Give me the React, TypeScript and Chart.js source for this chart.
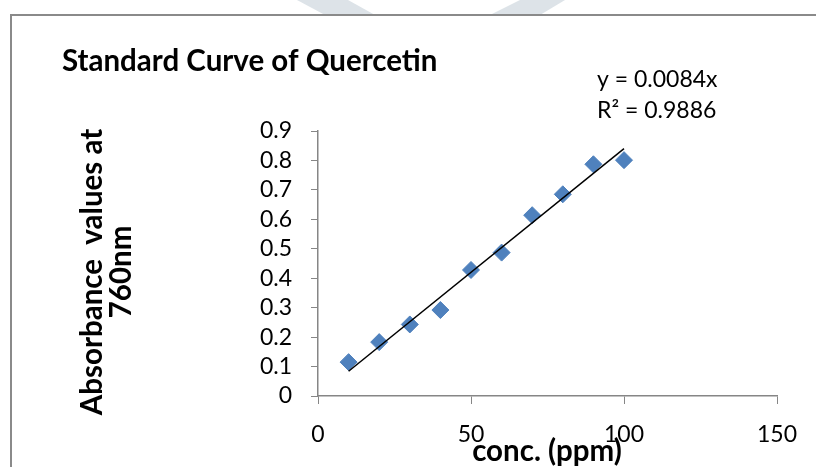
import React, { useEffect, useRef } from "react";
import { Chart, registerables } from "chart.js";

Chart.register(...registerables);

const concentrations = [10, 20, 30, 40, 50, 60, 70, 80, 90, 100];
const absorbance = [0.115, 0.183, 0.243, 0.292, 0.428, 0.487, 0.614, 0.685, 0.787, 0.801];
const trendSlope = 0.0084;
const trendRange = [10, 100];
const chartTitle = "Standard Curve of Quercetin";
const yTitleLines = ["Absorbance  values at", "760nm"];
const xTitle = "conc. (ppm)";
const equationLines = ["y = 0.0084x", "R\u00b2 = 0.9886"];

const FONT = "Lato, 'Open Sans', sans-serif";

const decorPlugin = {
  id: "decor",
  beforeDraw(chart: any) {
    const ctx = chart.ctx;
    ctx.save();
    ctx.fillStyle = "#ffffff";
    ctx.fillRect(0, 0, chart.width, chart.height);
    // faint watermark shapes
    ctx.fillStyle = "#dde3e8";
    ctx.beginPath();
    ctx.moveTo(297, 0);
    ctx.lineTo(348, 0);
    ctx.lineTo(375, 15);
    ctx.lineTo(325, 15);
    ctx.closePath();
    ctx.fill();
    ctx.beginPath();
    ctx.moveTo(520, 0);
    ctx.lineTo(565, 0);
    ctx.lineTo(540, 15);
    ctx.lineTo(490, 15);
    ctx.closePath();
    ctx.fill();
    // frame
    ctx.fillStyle = "#8a8a8a";
    ctx.fillRect(10, 14, chart.width - 10, 2);
    ctx.fillRect(10, 14, 2, chart.height - 14);
    ctx.restore();
  },
  afterDraw(chart: any) {
    const ctx = chart.ctx;
    ctx.save();
    ctx.fillStyle = "#000000";
    ctx.textBaseline = "middle";
    // chart title
    ctx.font = `bold 29.5px ${FONT}`;
    ctx.textAlign = "left";
    ctx.fillText(chartTitle, 62, 61);
    // equation
    ctx.font = `23px ${FONT}`;
    ctx.fillText(equationLines[0], 597, 80);
    ctx.fillText(equationLines[1], 597, 111);
    // x title
    ctx.font = `bold 29.5px ${FONT}`;
    ctx.textAlign = "center";
    ctx.fillText(xTitle, 547, 451);
    // y title
    ctx.translate(0, 272);
    ctx.rotate(-Math.PI / 2);
    ctx.fillText(yTitleLines[0], 0, 92);
    ctx.fillText(yTitleLines[1], 0, 121);
    ctx.restore();
  },
};

export default function App() {
  const ref = useRef<HTMLCanvasElement | null>(null);
  useEffect(() => {
    if (!ref.current) return;
    const axisColor = "#868686";
    const chart = new Chart(ref.current, {
      type: "scatter",
      data: {
        datasets: [
          {
            type: "line",
            label: "Trend",
            data: trendRange.map((x) => ({ x, y: trendSlope * x })),
            borderColor: "#000000",
            borderWidth: 1.5,
            pointRadius: 0,
            fill: false,
            order: 0,
          },
          {
            label: "Absorbance",
            data: concentrations.map((x, i) => ({ x, y: absorbance[i] })),
            pointStyle: "rectRot",
            pointRadius: 8.5,
            pointBackgroundColor: "#4f81bd",
            pointBorderColor: "#4f81bd",
            pointBorderWidth: 1,
            order: 1,
          },
        ],
      },
      options: {
        animation: false,
        responsive: false,
        devicePixelRatio: 1,
        layout: { padding: { left: 0, right: 39, top: 131, bottom: 0 } },
        plugins: {
          legend: { display: false },
          tooltip: { enabled: false },
          title: { display: false },
        },
        scales: {
          x: {
            type: "linear",
            min: 0,
            max: 150,
            ticks: {
              stepSize: 50,
              autoSkip: false,
              maxRotation: 0,
              color: "#000",
              font: { family: FONT, size: 23 },
              padding: 17,
            },
            grid: {
              drawOnChartArea: false,
              drawTicks: true,
              tickLength: 8,
              color: axisColor,
              lineWidth: 1,
            },
            border: { display: true, color: axisColor, width: 1.5 },
            afterFit(scale: any) {
              scale.height = 467 - 396;
            },
          },
          y: {
            type: "linear",
            min: 0,
            max: 0.9,
            ticks: {
              stepSize: 0.1,
              autoSkip: false,
              color: "#000",
              font: { family: FONT, size: 23 },
              padding: 19,
              callback: (v: any) => Number(Number(v).toFixed(1)).toString(),
            },
            grid: {
              drawOnChartArea: false,
              drawTicks: true,
              tickLength: 7,
              color: axisColor,
              lineWidth: 1,
            },
            border: { display: true, color: axisColor, width: 1.5 },
            afterFit(scale: any) {
              scale.width = 318;
            },
          },
        },
      },
      plugins: [decorPlugin],
    } as any);
    return () => chart.destroy();
  }, []);
  return (
    <div style={{ position: "absolute", left: 0, top: 0, width: 816, height: 467 }}>
      <canvas ref={ref} width={816} height={467} style={{ width: 816, height: 467 }} />
    </div>
  );
}
